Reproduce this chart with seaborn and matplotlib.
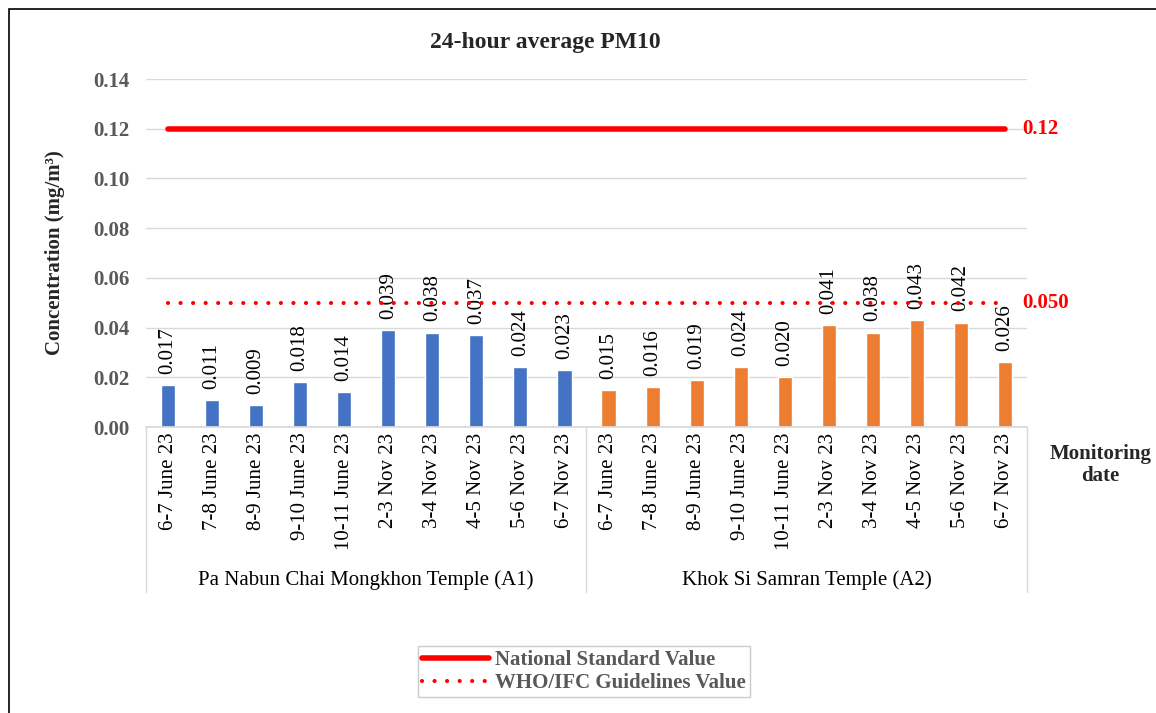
import numpy as np
import pandas as pd
import matplotlib
matplotlib.use("Agg")
import matplotlib.pyplot as plt
import seaborn as sns
from matplotlib.patches import Rectangle
from matplotlib.lines import Line2D

# Data
SITES = ["Pa Nabun Chai Mongkhon Temple (A1)", "Khok Si Samran Temple (A2)"]
DATES = ["6-7 June 23", "7-8 June 23", "8-9 June 23", "9-10 June 23", "10-11 June 23",
         "2-3 Nov 23", "3-4 Nov 23", "4-5 Nov 23", "5-6 Nov 23", "6-7 Nov 23"]
A1_VALUES = [0.017, 0.011, 0.009, 0.018, 0.014, 0.039, 0.038, 0.037, 0.024, 0.023]
A2_VALUES = [0.015, 0.016, 0.019, 0.024, 0.020, 0.041, 0.038, 0.043, 0.042, 0.026]
NATIONAL_STD = 0.12
WHO_GUIDE = 0.050
Y_TICKS = [0.00, 0.02, 0.04, 0.06, 0.08, 0.10, 0.12, 0.14]

BLUE = "#4472C4"
ORANGE = "#ED7D31"
RED = "#FF0000"
GREY = "#595959"
GRID = "#D9D9D9"
DOTS = (0, (0.01, 3.0))

sns.set_theme(style="white")
plt.rcParams['font.family'] = ['Liberation Serif', 'DejaVu Serif']

df = pd.DataFrame({
    "pos": np.arange(len(DATES) * 2),
    "date": DATES + DATES,
    "site": [SITES[0]] * len(DATES) + [SITES[1]] * len(DATES),
    "value": A1_VALUES + A2_VALUES,
})
n = len(df)

fig = plt.figure(figsize=(11.56, 7.13), dpi=100)
ax = fig.add_axes([0.1263, 0.4011, 0.7621, 0.4881])

sns.barplot(data=df, x="pos", y="value", hue="site", dodge=False, width=0.32,
            palette=[BLUE, ORANGE], saturation=1, legend=False, ax=ax)

for c in ax.containers:
    ax.bar_label(c, labels=[f"{v:.3f}" for v in c.datavalues], rotation=90,
                 padding=8, fontsize=15, color="black")

# reference lines
ax.plot([0, n - 1], [NATIONAL_STD] * 2, color=RED, lw=4, solid_capstyle="round", zorder=4)
ax.plot([0, n - 1], [WHO_GUIDE] * 2, color=RED, lw=3, linestyle=DOTS,
        dash_capstyle="round", zorder=4)
ax.text(n - 0.6, NATIONAL_STD, f"{NATIONAL_STD:.2f}", color=RED, fontsize=15,
        fontweight="bold", va="center", ha="left")
ax.text(n - 0.6, WHO_GUIDE, f"{WHO_GUIDE:.3f}", color=RED, fontsize=15,
        fontweight="bold", va="center", ha="left")

ax.set_xlim(-0.5, n - 0.5)
ax.set_ylim(0, 0.14)
ax.set_yticks(Y_TICKS)
ax.set_yticklabels([f"{t:.2f}" for t in Y_TICKS], fontsize=15, fontweight="bold", color=GREY)
ax.set_xticks(range(n))
ax.set_xticklabels(df["date"], rotation=90, fontsize=15, color="black")
ax.tick_params(axis="x", length=0, pad=4)
ax.tick_params(axis="y", length=0, pad=12)
ax.yaxis.grid(True, color=GRID, lw=1)
ax.set_axisbelow(True)
for s in ["top", "right", "left"]:
    ax.spines[s].set_visible(False)
ax.spines["bottom"].set_color(GRID)
ax.set_xlabel("")
ax.set_ylabel("Concentration (mg/m³)", fontsize=15, fontweight="bold", labelpad=20)

# group separators and site labels below the axis
for xs in [-0.5, len(DATES) - 0.5, n - 0.5]:
    ax.plot([xs, xs], [0, -0.474], transform=ax.get_xaxis_transform(),
            color=GRID, lw=1, clip_on=False)
for i, site in enumerate(SITES):
    ax.text(i * len(DATES) + (len(DATES) - 1) / 2, -0.44, site,
            transform=ax.get_xaxis_transform(), ha="center", va="center",
            fontsize=15, color="black")

fig.text(0.472, 0.940, "24-hour average PM10", ha="center", va="center",
         fontsize=17, fontweight="bold")
fig.text(0.952, 0.348, "Monitoring\ndate", ha="center", va="center",
         fontsize=15, fontweight="bold", linespacing=1.1)

handles = [Line2D([], [], color=RED, lw=4),
           Line2D([], [], color=RED, lw=3, linestyle=DOTS, dash_capstyle="round")]
leg = fig.legend(handles, ["National Standard Value", "WHO/IFC Guidelines Value"],
                 loc="center", bbox_to_anchor=(0.505, 0.058), frameon=True, fancybox=False,
                 prop={"size": 15, "weight": "bold"}, handlelength=3.2,
                 borderpad=0.2, labelspacing=0.15, handletextpad=0.3)
leg.get_frame().set_edgecolor("#BFBFBF")
for t in leg.get_texts():
    t.set_color(GREY)

fig.patches.append(Rectangle((9 / 1156, -0.05), 1.2, 1 - 9 / 713 + 0.05,
                             transform=fig.transFigure, fill=False,
                             edgecolor="black", lw=1.2))

fig.savefig("out.png", dpi=100)
